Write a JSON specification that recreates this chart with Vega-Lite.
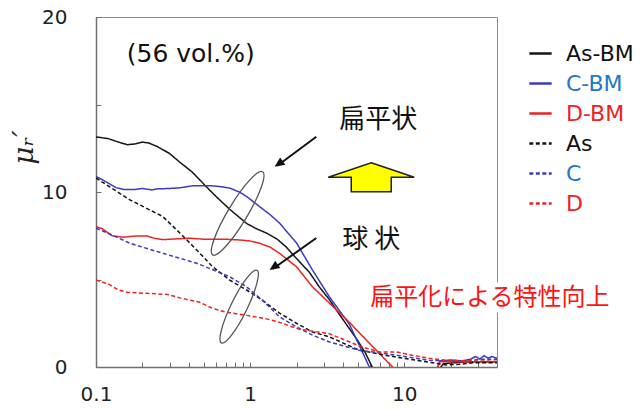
{
  "$schema": "https://vega.github.io/schema/vega-lite/v6.json",
  "width": 401,
  "height": 350,
  "autosize": "none",
  "padding": {"left": 96, "top": 17, "right": 142, "bottom": 43},
  "background": "white",
  "config": {
    "font": "DejaVu Sans",
    "view": {"stroke": "#8c8c8c", "strokeWidth": 1}
  },
  "datasets": {
    "curves": [
      {"series": "As-BM", "f": 0.1, "mu": 13.15},
      {"series": "As-BM", "f": 0.12, "mu": 13.05},
      {"series": "As-BM", "f": 0.14, "mu": 12.85},
      {"series": "As-BM", "f": 0.16, "mu": 12.7},
      {"series": "As-BM", "f": 0.18, "mu": 12.75},
      {"series": "As-BM", "f": 0.2, "mu": 12.85},
      {"series": "As-BM", "f": 0.22, "mu": 12.8},
      {"series": "As-BM", "f": 0.25, "mu": 12.6},
      {"series": "As-BM", "f": 0.3, "mu": 12.2},
      {"series": "As-BM", "f": 0.35, "mu": 11.7},
      {"series": "As-BM", "f": 0.42, "mu": 11.15},
      {"series": "As-BM", "f": 0.52, "mu": 10.3},
      {"series": "As-BM", "f": 0.6, "mu": 9.75},
      {"series": "As-BM", "f": 0.74, "mu": 9.0},
      {"series": "As-BM", "f": 0.95, "mu": 8.2},
      {"series": "As-BM", "f": 1.1, "mu": 7.9},
      {"series": "As-BM", "f": 1.28, "mu": 7.65},
      {"series": "As-BM", "f": 1.5, "mu": 7.3},
      {"series": "As-BM", "f": 1.72, "mu": 6.85},
      {"series": "As-BM", "f": 2.0, "mu": 6.2},
      {"series": "As-BM", "f": 2.43, "mu": 5.4},
      {"series": "As-BM", "f": 2.8, "mu": 4.6},
      {"series": "As-BM", "f": 3.27, "mu": 3.85},
      {"series": "As-BM", "f": 3.8, "mu": 3.0},
      {"series": "As-BM", "f": 4.4, "mu": 2.2},
      {"series": "As-BM", "f": 5.0, "mu": 1.5},
      {"series": "As-BM", "f": 5.6, "mu": 0.8},
      {"series": "As-BM", "f": 6.2, "mu": 0.0},
      {"series": "As-BM", "f": 8, "mu": -1},
      {"series": "As-BM", "f": 16, "mu": -0.4},
      {"series": "As-BM", "f": 18, "mu": 0.2},
      {"series": "As-BM", "f": 22, "mu": 0.25},
      {"series": "As-BM", "f": 27, "mu": 0.3},
      {"series": "As-BM", "f": 33, "mu": 0.3},
      {"series": "As-BM", "f": 40, "mu": 0.3},

      {"series": "C-BM", "f": 0.1, "mu": 10.89},
      {"series": "C-BM", "f": 0.11, "mu": 10.7},
      {"series": "C-BM", "f": 0.123, "mu": 10.45},
      {"series": "C-BM", "f": 0.135, "mu": 10.25},
      {"series": "C-BM", "f": 0.15, "mu": 10.15},
      {"series": "C-BM", "f": 0.18, "mu": 10.15},
      {"series": "C-BM", "f": 0.2, "mu": 10.2},
      {"series": "C-BM", "f": 0.23, "mu": 10.12},
      {"series": "C-BM", "f": 0.25, "mu": 10.18},
      {"series": "C-BM", "f": 0.3, "mu": 10.2},
      {"series": "C-BM", "f": 0.35, "mu": 10.24},
      {"series": "C-BM", "f": 0.42, "mu": 10.35},
      {"series": "C-BM", "f": 0.5, "mu": 10.36},
      {"series": "C-BM", "f": 0.57, "mu": 10.35},
      {"series": "C-BM", "f": 0.65, "mu": 10.3},
      {"series": "C-BM", "f": 0.74, "mu": 10.22},
      {"series": "C-BM", "f": 0.85, "mu": 10.0},
      {"series": "C-BM", "f": 0.95, "mu": 9.74},
      {"series": "C-BM", "f": 1.15, "mu": 9.17},
      {"series": "C-BM", "f": 1.35, "mu": 8.7},
      {"series": "C-BM", "f": 1.55, "mu": 8.23},
      {"series": "C-BM", "f": 2.0, "mu": 7.09},
      {"series": "C-BM", "f": 2.54, "mu": 5.54},
      {"series": "C-BM", "f": 3.27, "mu": 4.01},
      {"series": "C-BM", "f": 4.41, "mu": 2.44},
      {"series": "C-BM", "f": 5.94, "mu": 0.0},
      {"series": "C-BM", "f": 8, "mu": -1},
      {"series": "C-BM", "f": 16, "mu": -0.4},
      {"series": "C-BM", "f": 17, "mu": 0.35},
      {"series": "C-BM", "f": 20, "mu": 0.4},
      {"series": "C-BM", "f": 24, "mu": 0.35},
      {"series": "C-BM", "f": 27, "mu": 0.45},
      {"series": "C-BM", "f": 29, "mu": 0.6},
      {"series": "C-BM", "f": 31, "mu": 0.45},
      {"series": "C-BM", "f": 33, "mu": 0.65},
      {"series": "C-BM", "f": 35, "mu": 0.5},
      {"series": "C-BM", "f": 37, "mu": 0.6},
      {"series": "C-BM", "f": 40, "mu": 0.5},

      {"series": "D-BM", "f": 0.1, "mu": 8.02},
      {"series": "D-BM", "f": 0.11, "mu": 7.9},
      {"series": "D-BM", "f": 0.127, "mu": 7.5},
      {"series": "D-BM", "f": 0.15, "mu": 7.42},
      {"series": "D-BM", "f": 0.18, "mu": 7.48},
      {"series": "D-BM", "f": 0.214, "mu": 7.49},
      {"series": "D-BM", "f": 0.24, "mu": 7.35},
      {"series": "D-BM", "f": 0.271, "mu": 7.28},
      {"series": "D-BM", "f": 0.33, "mu": 7.32},
      {"series": "D-BM", "f": 0.406, "mu": 7.36},
      {"series": "D-BM", "f": 0.5, "mu": 7.3},
      {"series": "D-BM", "f": 0.571, "mu": 7.3},
      {"series": "D-BM", "f": 0.7, "mu": 7.3},
      {"series": "D-BM", "f": 0.854, "mu": 7.26},
      {"series": "D-BM", "f": 1.0, "mu": 7.2},
      {"series": "D-BM", "f": 1.15, "mu": 7.07},
      {"series": "D-BM", "f": 1.35, "mu": 6.85},
      {"series": "D-BM", "f": 1.55, "mu": 6.5},
      {"series": "D-BM", "f": 2.0, "mu": 5.73},
      {"series": "D-BM", "f": 2.54, "mu": 4.58},
      {"series": "D-BM", "f": 3.27, "mu": 3.65},
      {"series": "D-BM", "f": 4.41, "mu": 2.55},
      {"series": "D-BM", "f": 5.94, "mu": 1.36},
      {"series": "D-BM", "f": 8.4, "mu": 0.0},
      {"series": "D-BM", "f": 10, "mu": -1},
      {"series": "D-BM", "f": 16, "mu": -0.4},
      {"series": "D-BM", "f": 17, "mu": 0.3},
      {"series": "D-BM", "f": 20, "mu": 0.32},
      {"series": "D-BM", "f": 25, "mu": 0.28},
      {"series": "D-BM", "f": 30, "mu": 0.3},
      {"series": "D-BM", "f": 35, "mu": 0.28},
      {"series": "D-BM", "f": 40, "mu": 0.3},

      {"series": "As", "f": 0.1, "mu": 10.8},
      {"series": "As", "f": 0.166, "mu": 9.55},
      {"series": "As", "f": 0.271, "mu": 8.6},
      {"series": "As", "f": 0.35, "mu": 7.66},
      {"series": "As", "f": 0.45, "mu": 6.69},
      {"series": "As", "f": 0.571, "mu": 5.73},
      {"series": "As", "f": 0.737, "mu": 4.97},
      {"series": "As", "f": 0.949, "mu": 4.4},
      {"series": "As", "f": 1.2, "mu": 3.82},
      {"series": "As", "f": 1.55, "mu": 3.08},
      {"series": "As", "f": 2.0, "mu": 2.5},
      {"series": "As", "f": 2.54, "mu": 2.0},
      {"series": "As", "f": 3.27, "mu": 1.72},
      {"series": "As", "f": 5.1, "mu": 0.96},
      {"series": "As", "f": 8.9, "mu": 0.56},
      {"series": "As", "f": 14.5, "mu": 0.27},
      {"series": "As", "f": 18.6, "mu": 0.12},
      {"series": "As", "f": 22.6, "mu": 0.15},
      {"series": "As", "f": 28.3, "mu": 0.25},
      {"series": "As", "f": 40, "mu": 0.25},

      {"series": "C", "f": 0.1, "mu": 7.93},
      {"series": "C", "f": 0.123, "mu": 7.6},
      {"series": "C", "f": 0.166, "mu": 7.07},
      {"series": "C", "f": 0.271, "mu": 6.5},
      {"series": "C", "f": 0.45, "mu": 5.93},
      {"series": "C", "f": 0.737, "mu": 5.16},
      {"series": "C", "f": 0.949, "mu": 4.58},
      {"series": "C", "f": 1.2, "mu": 3.82},
      {"series": "C", "f": 1.55, "mu": 2.87},
      {"series": "C", "f": 2.0, "mu": 2.29},
      {"series": "C", "f": 2.54, "mu": 1.82},
      {"series": "C", "f": 3.27, "mu": 1.43},
      {"series": "C", "f": 5.1, "mu": 0.96},
      {"series": "C", "f": 8.9, "mu": 0.67},
      {"series": "C", "f": 14.5, "mu": 0.38},
      {"series": "C", "f": 22.6, "mu": 0.35},
      {"series": "C", "f": 28.3, "mu": 0.4},
      {"series": "C", "f": 33, "mu": 0.45},
      {"series": "C", "f": 40, "mu": 0.45},

      {"series": "D", "f": 0.1, "mu": 4.97},
      {"series": "D", "f": 0.12, "mu": 4.75},
      {"series": "D", "f": 0.14, "mu": 4.4},
      {"series": "D", "f": 0.16, "mu": 4.27},
      {"series": "D", "f": 0.2, "mu": 4.22},
      {"series": "D", "f": 0.29, "mu": 4.15},
      {"series": "D", "f": 0.35, "mu": 3.95},
      {"series": "D", "f": 0.47, "mu": 3.7},
      {"series": "D", "f": 0.57, "mu": 3.35},
      {"series": "D", "f": 0.7, "mu": 3.13},
      {"series": "D", "f": 0.95, "mu": 2.95},
      {"series": "D", "f": 1.28, "mu": 2.75},
      {"series": "D", "f": 1.55, "mu": 2.55},
      {"series": "D", "f": 2.09, "mu": 2.15},
      {"series": "D", "f": 2.54, "mu": 2.05},
      {"series": "D", "f": 3.27, "mu": 1.9},
      {"series": "D", "f": 5.3, "mu": 1.15},
      {"series": "D", "f": 6.9, "mu": 0.86},
      {"series": "D", "f": 8.9, "mu": 0.86},
      {"series": "D", "f": 11.3, "mu": 0.67},
      {"series": "D", "f": 14.5, "mu": 0.5},
      {"series": "D", "f": 18.6, "mu": 0.38},
      {"series": "D", "f": 26.4, "mu": 0.35},
      {"series": "D", "f": 40, "mu": 0.33}
    ]
  },
  "layer": [
    {
      "data": {"name": "curves"},
      "mark": {"type": "line", "strokeWidth": 1.5, "clip": true},
      "encoding": {
        "x": {
          "field": "f",
          "type": "quantitative",
          "scale": {"type": "log", "domain": [0.1, 40], "nice": false},
          "axis": {
            "title": null,
            "grid": false,
            "values": [0.1, 0.2, 0.3, 0.4, 0.5, 0.6, 0.7, 0.8, 0.9, 1, 2, 3, 4, 5, 6, 7, 8, 9, 10, 20, 30, 40],
            "labelExpr": "datum.value == 0.1 ? '0.1' : datum.value == 1 ? '1' : datum.value == 10 ? '10' : ''",
            "labelFlush": false,
            "labelOverlap": false,
            "labelFontSize": 20,
            "labelColor": "#222222",
            "labelPadding": 22,
            "tickSize": -5,
            "tickColor": "#707070",
            "domainColor": "#707070",
            "domainWidth": 1.5
          }
        },
        "y": {
          "field": "mu",
          "type": "quantitative",
          "scale": {"domain": [0, 20], "nice": false},
          "axis": {
            "values": [0, 5, 10, 15, 20],
            "labelExpr": "datum.value % 10 == 0 ? datum.label : ''",
            "grid": false,
            "labelFontSize": 20,
            "labelColor": "#222222",
            "labelPadding": 34,
            "tickSize": -5,
            "tickColor": "#707070",
            "domainColor": "#707070",
            "domainWidth": 1.5,
            "title": "μᵣ′",
            "titleFont": "DejaVu Serif",
            "titleFontStyle": "italic",
            "titleFontWeight": "normal",
            "titleFontSize": 28,
            "titleColor": "#222222",
            "titleAngle": -90,
            "titleX": -58,
            "titleY": 130
          }
        },
        "color": {
          "field": "series",
          "type": "nominal",
          "scale": {
            "domain": ["As-BM", "C-BM", "D-BM", "As", "C", "D"],
            "range": ["#151515", "#3a3ac4", "#ee2222", "#151515", "#3a3ac4", "#ee2222"]
          },
          "legend": {
            "title": null,
            "orient": "none",
            "legendX": 432,
            "legendY": 24,
            "padding": 0,
            "symbolType": "stroke",
            "symbolSize": 500,
            "symbolStrokeWidth": 2.5,
            "labelFontSize": 22,
            "labelOffset": 13,
            "rowPadding": 6,
            "encode": {
              "labels": {"update": {"fill": {"signal": "indexof(['C-BM','C'], datum.label) >= 0 ? '#1f77c8' : indexof(['D-BM','D'], datum.label) >= 0 ? '#ee2222' : '#111111'"}}}
            }
          }
        },
        "strokeDash": {
          "field": "series",
          "type": "nominal",
          "scale": {
            "domain": ["As-BM", "C-BM", "D-BM", "As", "C", "D"],
            "range": [[1, 0], [1, 0], [1, 0], [4, 2.5], [4, 2.5], [4, 2.5]]
          },
          "legend": {
            "title": null,
            "orient": "none",
            "legendX": 432,
            "legendY": 24,
            "padding": 0,
            "symbolType": "stroke",
            "symbolSize": 500,
            "symbolStrokeWidth": 2.5,
            "labelFontSize": 22,
            "labelOffset": 13,
            "rowPadding": 6
          }
        }
      }
    },
    {
      "data": {"values": [{"f1": 5.76, "f2": 225, "m1": 3.12, "m2": 4.84}]},
      "mark": {"type": "rect", "fill": "white"},
      "encoding": {
        "x": {"field": "f1", "type": "quantitative"},
        "x2": {"field": "f2"},
        "y": {"field": "m1", "type": "quantitative"},
        "y2": {"field": "m2"}
      }
    },
    {
      "data": {"values": [{"label": "(56 vol.%)", "f": 0.412, "mu": 17.86}]},
      "mark": {"type": "text", "fontSize": 25, "font": "DejaVu Sans", "color": "#111111", "align": "center", "baseline": "middle"},
      "encoding": {
        "x": {"field": "f", "type": "quantitative"},
        "y": {"field": "mu", "type": "quantitative"},
        "text": {"field": "label"}
      }
    },
    {
      "data": {"values": [
        {"label": "扁平状", "f": 6.79, "mu": 14.14},
        {"label": "球 状", "f": 6.11, "mu": 7.26}
      ]},
      "mark": {"type": "text", "fontSize": 26, "font": "Noto Sans CJK JP", "color": "#111111", "align": "center", "baseline": "middle"},
      "encoding": {
        "x": {"field": "f", "type": "quantitative"},
        "y": {"field": "mu", "type": "quantitative"},
        "text": {"field": "label"}
      }
    },
    {
      "data": {"values": [{"label": "扁平化による特性向上", "f": 36.0, "mu": 3.94}]},
      "mark": {"type": "text", "fontSize": 24, "font": "Noto Sans CJK JP", "color": "#ff1111", "align": "center", "baseline": "middle"},
      "encoding": {
        "x": {"field": "f", "type": "quantitative"},
        "y": {"field": "mu", "type": "quantitative"},
        "text": {"field": "label"}
      }
    },
    {
      "data": {"values": [
        {"f1": 2.69, "m1": 13.16, "f2": 1.5, "m2": 11.5},
        {"f1": 2.69, "m1": 7.37, "f2": 1.4, "m2": 5.6}
      ]},
      "mark": {"type": "rule", "strokeWidth": 2, "color": "#111111"},
      "encoding": {
        "x": {"field": "f1", "type": "quantitative"},
        "x2": {"field": "f2"},
        "y": {"field": "m1", "type": "quantitative"},
        "y2": {"field": "m2"}
      }
    },
    {
      "data": {"values": [
        {"f": 1.441, "mu": 11.44},
        {"f": 1.337, "mu": 5.54}
      ]},
      "mark": {"type": "point", "shape": "M0,0 L-1,-0.45 L-1,0.45 Z", "size": 400, "angle": 145, "filled": true, "color": "#111111", "opacity": 1},
      "encoding": {
        "x": {"field": "f", "type": "quantitative"},
        "y": {"field": "mu", "type": "quantitative"}
      }
    },
    {
      "data": {"values": [{"f": 0.83, "mu": 8.78}]},
      "mark": {"type": "point", "shape": "M0,-1 C0.11,-1 0.2,-0.552 0.2,0 C0.2,0.552 0.11,1 0,1 C-0.11,1 -0.2,0.552 -0.2,0 C-0.2,-0.552 -0.11,-1 0,-1 Z", "size": 9409, "angle": 31, "filled": false, "stroke": "#555555", "strokeWidth": 1.3, "opacity": 1},
      "encoding": {
        "x": {"field": "f", "type": "quantitative"},
        "y": {"field": "mu", "type": "quantitative"}
      }
    },
    {
      "data": {"values": [{"f": 0.849, "mu": 3.45}]},
      "mark": {"type": "point", "shape": "M0,-1 C0.11,-1 0.2,-0.552 0.2,0 C0.2,0.552 0.11,1 0,1 C-0.11,1 -0.2,0.552 -0.2,0 C-0.2,-0.552 -0.11,-1 0,-1 Z", "size": 6561, "angle": 26, "filled": false, "stroke": "#555555", "strokeWidth": 1.3, "opacity": 1},
      "encoding": {
        "x": {"field": "f", "type": "quantitative"},
        "y": {"field": "mu", "type": "quantitative"}
      }
    },
    {
      "data": {"values": [{"f": 6.11, "mu": 10.84}]},
      "mark": {"type": "point", "shape": "M0,-0.337 L1,0 L0.465,0 L0.465,0.337 L-0.465,0.337 L-0.465,0 L-1,0 Z", "size": 7396, "filled": true, "fill": "#ffff00", "stroke": "#222222", "strokeWidth": 1.5, "opacity": 1},
      "encoding": {
        "x": {"field": "f", "type": "quantitative"},
        "y": {"field": "mu", "type": "quantitative"}
      }
    }
  ]
}
